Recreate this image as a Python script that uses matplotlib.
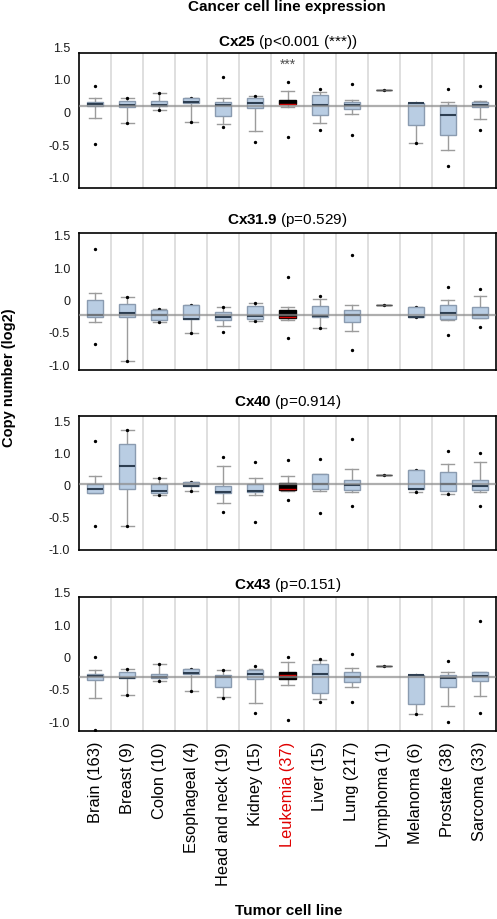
import matplotlib
matplotlib.use("Agg")
import matplotlib.pyplot as plt

plt.rcParams["font.family"] = ["Liberation Sans", "DejaVu Sans"]
plt.rcParams["mathtext.fontset"] = "custom"
plt.rcParams["mathtext.rm"] = "Liberation Sans"
plt.rcParams["mathtext.bf"] = "Liberation Sans:bold"

CATEGORIES = ["Brain (163)", "Breast (9)", "Colon (10)", "Esophageal (4)", "Head and neck (19)",
              "Kidney (15)", "Leukemia (37)", "Liver (15)", "Lung (217)", "Lymphoma (1)",
              "Melanoma (6)", "Prostate (38)", "Sarcoma (33)"]
HIGHLIGHT = "Leukemia (37)"

Y_TICK_POS = [1.0, 0.5, 0.0, -0.5, -1.0]
Y_TICK_LABELS = ["1.5", "1.0", "0", "-0.5", "-1.0"]

# Cx25
CX25_Q1 = [0.128, 0.10, 0.123, 0.164, -0.026, 0.097, 0.155, -0.01, 0.072, 0.368, -0.174, -0.327, 0.112]
CX25_MED = [0.153, 0.133, 0.133, 0.184, 0.138, 0.164, 0.160, 0.143, 0.133, 0.368, 0.169, -0.01, 0.143]
CX25_Q3 = [0.19, 0.194, 0.194, 0.25, 0.179, 0.24, 0.22, 0.29, 0.179, 0.368, 0.169, 0.138, 0.179]
CX25_LO = [-0.056, -0.143, 0.06, -0.118, -0.148, -0.26, 0.11, -0.133, -0.005, 0.368, -0.45, -0.547, -0.077]
CX25_HI = [0.25, 0.25, 0.327, 0.25, 0.25, 0.276, 0.353, 0.332, 0.215, 0.368, 0.169, 0.179, 0.2]
CX25_OUT = [[0.435, -0.455], [0.25, -0.143], [0.327, 0.06], [0.25, -0.118], [0.56, -0.194],
            [0.276, -0.424], [0.49, -0.358], [0.389, -0.245], [0.46, -0.317], [0.368],
            [0.169, -0.45], [0.378, -0.792], [0.435, -0.24]]
CX25_REF = 0.128

# Cx31.9
CX319_Q1 = [-0.237, -0.237, -0.284, -0.268, -0.284, -0.258, -0.248, -0.237, -0.31, -0.052, -0.237, -0.263, -0.248]
CX319_MED = [-0.196, -0.175, -0.2, -0.258, -0.237, -0.217, -0.227, -0.217, -0.206, -0.052, -0.237, -0.175, -0.2]
CX319_Q3 = [0.026, -0.036, -0.119, -0.041, -0.15, -0.057, -0.13, -0.057, -0.124, -0.052, -0.077, -0.052, -0.072]
CX319_LO = [-0.315, -0.908, -0.315, -0.48, -0.37, -0.3, -0.273, -0.397, -0.454, -0.052, -0.237, -0.277, -0.248]
CX319_HI = [0.144, 0.083, -0.108, -0.041, -0.083, -0.01, -0.083, 0.052, -0.052, -0.052, -0.077, 0.036, 0.098]
CX319_OUT = [[0.82, -0.65], [0.083, -0.908], [-0.108, -0.315], [-0.041, -0.48], [-0.083, -0.46],
             [-0.01, -0.3], [0.392, -0.557], [0.093, -0.397], [0.733, -0.743], [-0.052],
             [-0.077, -0.237], [0.227, -0.506], [0.206, -0.387]]
CX319_REF = -0.196

# Cx40
CX40_Q1 = [-0.094, -0.042, -0.104, 0.01, -0.104, -0.089, -0.057, -0.031, -0.047, 0.178, -0.042, -0.063, -0.057]
CX40_MED = [-0.042, 0.319, -0.068, 0.016, -0.078, -0.063, -0.037, 0.047, 0.026, 0.178, -0.042, 0.047, 0.01]
CX40_Q3 = [0.037, 0.664, 0.037, 0.068, 0.01, 0.042, 0.057, 0.204, 0.11, 0.178, 0.256, 0.225, 0.11]
CX40_LO = [-0.104, -0.611, -0.125, -0.073, -0.246, -0.13, -0.063, -0.063, -0.089, 0.178, -0.078, -0.11, -0.089]
CX40_HI = [0.172, 0.883, 0.141, 0.073, 0.324, 0.131, 0.167, 0.204, 0.272, 0.178, 0.256, 0.35, 0.387]
CX40_OUT = [[0.716, -0.606], [0.883, -0.611], [0.141, -0.125], [0.073, -0.073], [0.47, -0.387],
            [0.381, -0.549], [0.423, -0.199], [0.439, -0.402], [0.752, -0.303], [0.178],
            [0.256, -0.078], [0.564, -0.11], [0.522, -0.293]]
CX40_REF = 0.042

# Cx43
CX43_Q1 = [-0.323, -0.29, -0.297, -0.236, -0.436, -0.313, -0.303, -0.528, -0.349, -0.113, -0.687, -0.436, -0.344]
CX43_MED = [-0.262, -0.287, -0.277, -0.221, -0.277, -0.236, -0.251, -0.236, -0.272, -0.113, -0.241, -0.297, -0.262]
CX43_Q3 = [-0.231, -0.205, -0.236, -0.159, -0.241, -0.169, -0.205, -0.082, -0.205, -0.113, -0.241, -0.251, -0.205]
CX43_LO = [-0.605, -0.549, -0.333, -0.487, -0.579, -0.672, -0.405, -0.621, -0.436, -0.113, -0.851, -0.728, -0.574]
CX43_HI = [-0.169, -0.154, -0.082, -0.154, -0.174, -0.159, -0.051, -0.015, -0.138, -0.113, -0.241, -0.205, -0.205]
CX43_OUT = [[0.026, -1.092], [-0.154, -0.549], [-0.082, -0.333], [-0.154, -0.487], [-0.174, -0.595],
            [-0.113, -0.836], [0.036, -0.938], [0.005, -0.667], [0.077, -0.656], [-0.113],
            [-0.241, -0.851], [-0.026, -0.974], [0.59, -0.836]]
CX43_REF = -0.277

PANELS = [
    ("Cx25", " (p<0.001 (***))", CX25_Q1, CX25_MED, CX25_Q3, CX25_LO, CX25_HI, CX25_OUT, CX25_REF, "***"),
    ("Cx31.9", " (p=0.529)", CX319_Q1, CX319_MED, CX319_Q3, CX319_LO, CX319_HI, CX319_OUT, CX319_REF, None),
    ("Cx40", " (p=0.914)", CX40_Q1, CX40_MED, CX40_Q3, CX40_LO, CX40_HI, CX40_OUT, CX40_REF, None),
    ("Cx43", " (p=0.151)", CX43_Q1, CX43_MED, CX43_Q3, CX43_LO, CX43_HI, CX43_OUT, CX43_REF, None),
]

# layout in pixels: axes top, bottom, ylim, title centre
W, H = 497, 919
AX_LEFT, AX_RIGHT = 79, 496
BOXES = [(52.7, 187.7, (-1.13, 0.94), 42),
         (233.0, 370.3, (-1.058, 1.068), 220),
         (416.3, 550.0, (-0.987, 1.10), 402),
         (596.7, 731.0, (-1.108, 0.959), 585)]

FILL = "#b9cde3"
EDGE = "#8a9bb0"
MEDC = "#2e3f52"
WHIS = "#9c9c9c"

fig = plt.figure(figsize=(W / 100, H / 100), dpi=100)
axes = []

for (name, ptxt, q1, med, q3, lo, hi, out, ref, star), (top, bot, ylim, ty) in zip(PANELS, BOXES):
    ax = fig.add_axes([AX_LEFT / W, 1 - bot / H, (AX_RIGHT - AX_LEFT) / W, (bot - top) / H])
    axes.append(ax)
    stats = []
    for i, cat in enumerate(CATEGORIES):
        stats.append(dict(label=cat, q1=q1[i], med=med[i], q3=q3[i],
                          whislo=lo[i], whishi=hi[i], fliers=out[i]))
    pos = list(range(1, len(CATEGORIES) + 1))
    art = ax.bxp(stats, positions=pos, widths=0.5, capwidths=0.4, patch_artist=True,
                 showfliers=True,
                 boxprops=dict(facecolor=FILL, edgecolor=EDGE, linewidth=1.0),
                 medianprops=dict(color=MEDC, linewidth=1.5),
                 whiskerprops=dict(color=WHIS, linewidth=1.0),
                 capprops=dict(color=WHIS, linewidth=1.0),
                 flierprops=dict(marker="o", markersize=1.4, markerfacecolor="black",
                                 markeredgecolor="black", linestyle="none"))
    k = CATEGORIES.index(HIGHLIGHT)
    art["boxes"][k].set_facecolor("black")
    art["boxes"][k].set_edgecolor("black")
    art["medians"][k].set_color("#d40000")
    art["medians"][k].set_linewidth(1.0)
    # single-sample group drawn as a thin line
    for j in range(len(CATEGORIES)):
        if q1[j] == q3[j] == lo[j] == hi[j]:
            art["boxes"][j].set_edgecolor("#555555")
            art["medians"][j].set_linewidth(1.0)
            art["medians"][j].set_color("#555555")
    for b in art["boxes"]:
        b.set_zorder(3)
    for m in art["medians"]:
        m.set_zorder(4)
    for x in range(1, len(CATEGORIES)):
        ax.axvline(x + 0.5, color="#d9d9d9", lw=1.2, zorder=0)
    ax.axhline(ref, color="#8c8c8c", lw=1.6, alpha=0.7, zorder=5)
    if star:
        ax.text(k + 1, 0.69, star, ha="center", va="baseline", fontsize=10, color="#505050")
    ax.set_xlim(0.5, len(CATEGORIES) + 0.5)
    ax.set_ylim(*ylim)
    ax.set_yticks([])
    ax.set_xticks([])
    ytr = ax.get_yaxis_transform()
    for yp, yl in zip(Y_TICK_POS, Y_TICK_LABELS):
        ax.text(-9 / (AX_RIGHT - AX_LEFT), yp, yl, transform=ytr, ha="right", va="center",
                fontsize=9, color="#1a1a1a", clip_on=False)
    for s in ax.spines.values():
        s.set_linewidth(1.2)
        s.set_color("black")
    fig.text((AX_LEFT + AX_RIGHT) / 2 / W, 1 - ty / H, r"$\bf{" + name + "}$" + ptxt,
             ha="center", va="center", fontsize=11)

last = axes[-1]
last.set_xticks(range(1, len(CATEGORIES) + 1))
last.set_xticklabels(CATEGORIES, rotation=90, fontsize=11.8, va="top")
last.tick_params(axis="x", length=0, pad=8)
for lab in last.get_xticklabels():
    if lab.get_text() == HIGHLIGHT:
        lab.set_color("#e00000")

fig.text(287 / W, 1 - 7 / H, "Cancer cell line expression", ha="center", va="center",
         fontsize=11, fontweight="bold")
fig.text(9 / W, 1 - 378 / H, "Copy number (log2)", ha="center", va="center",
         rotation=90, fontsize=10.5, fontweight="bold")
fig.text(289 / W, 1 - 911 / H, "Tumor cell line", ha="center", va="center",
         fontsize=11, fontweight="bold")

fig.savefig("out.png", dpi=100)
